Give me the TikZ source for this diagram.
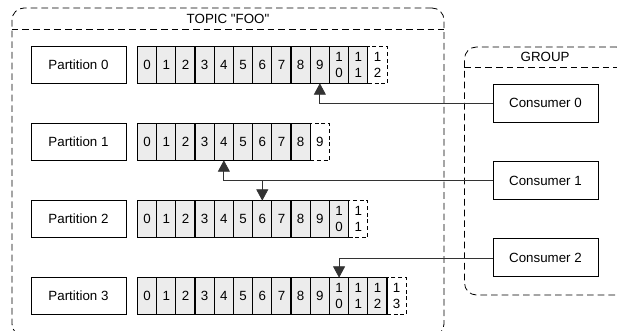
\documentclass[tikz,border=0pt]{standalone}
\usepackage{fontspec}
\setmainfont{Liberation Sans}[Ligatures=TeXOff]
\usepackage{tikz}
\usetikzlibrary{arrows.meta,positioning}

\newcommand{\offsetlabel}[1]{\ifnum#1<10 #1\else 1\\\number\numexpr#1-10\relax\fi}

\begin{document}
\begin{tikzpicture}[x=0.75pt, y=-0.75pt, node distance=57.75pt,
  frame/.style={draw, line width=0.6pt, dash pattern=on 5pt off 3pt, rounded corners=9pt},
  part/.style={rectangle, draw, line width=0.7pt, minimum width=71.25pt, minimum height=27.5pt},
  cell/.style={rectangle, draw, line width=0.9pt, fill=gray!15, minimum width=14.4pt, minimum height=27.5pt, inner sep=0pt, outer sep=0pt, anchor=west, align=center},
  newcell/.style={cell, fill=white, line width=0.6pt, dash pattern=on 3pt off 2pt},
  consumer/.style={rectangle, draw, line width=0.7pt, minimum width=78.75pt, minimum height=28.5pt},
  line/.style={draw, black!80, line width=0.6pt, -{Triangle[width=9pt, length=8.5pt]}}]

  \useasboundingbox (0,0) rectangle (617,331);
  \clip (0,0) rectangle (617,331);

  % topic and group frames
  \node [frame, minimum width=324pt, minimum height=246pt] (topic) at (228,172) {};
  \draw [frame, rounded corners=0pt] ([yshift=-16.5pt]topic.north west) -- ([yshift=-16.5pt]topic.north east);
  \node (topictitle) at ([yshift=-8.6pt]topic.north) {TOPIC "FOO"};

  \node [frame, minimum width=123pt, minimum height=186pt] (group) at (546.5,171) {};
  \draw [frame, rounded corners=0pt] ([yshift=-15.75pt]group.north west) -- ([yshift=-15.75pt]group.north east);
  \node (grouptitle) at ([yshift=-7.9pt, xshift=-1pt]group.north) {GROUP};

  % partitions
  \node [part] (part0) at (78.5,65) {Partition 0};
  \node [part, below of=part0] (part1) {Partition 1};
  \node [part, below of=part1] (part2) {Partition 2};
  \node [part, below of=part2] (part3) {Partition 3};

  % consumers
  \node [consumer] (c0) at (545.5,103) {Consumer 0};
  \node [consumer, below of=c0, node distance=58.1pt] (c1) {Consumer 1};
  \node [consumer, below of=c1, node distance=58.1pt] (c2) {Consumer 2};

  % offsets, last one is the next to be written
  \foreach \p/\n in {0/12, 1/9, 2/11, 3/13} {
    \pgfmathtruncatemacro{\last}{\n-1}
    \node [newcell, xshift={8.25pt+14.4pt*\n}] (p\p-\n) at (part\p.east) {\offsetlabel{\n}};
    \foreach \i in {0,...,\last}
      \node [cell, xshift={8.25pt+14.4pt*\i}] (p\p-\i) at (part\p.east) {\offsetlabel{\i}};
  }

  % consumer positions
  \draw [line] (c0.west) -| (p0-9.south);
  \draw [line] (c1.west) -| (p1-4.south);
  \coordinate (split) at (p2-6 |- c1.west);
  \draw [line] (split) -- (p2-6.north);
  \draw [line] (c2.west) -| (p3-10.north);
\end{tikzpicture}
\end{document}
